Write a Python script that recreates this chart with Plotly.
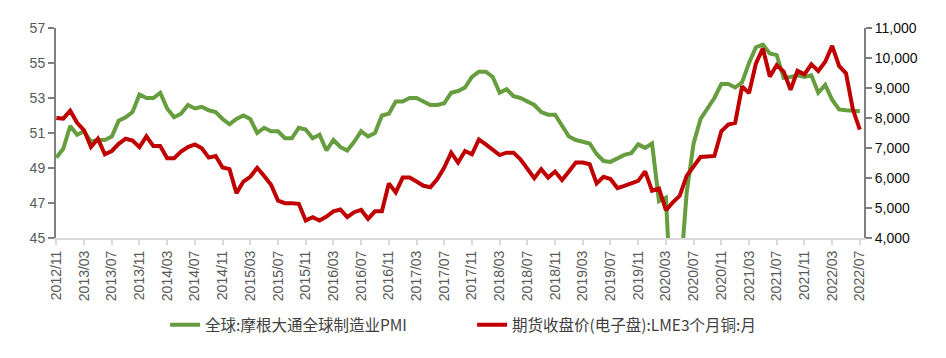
import plotly.graph_objects as go

months = []
y, m = 2012, 11
for _ in range(117):
    months.append(f"{y}/{m:02d}")
    m += 1
    if m > 12:
        m = 1
        y += 1

pmi = [49.6, 50.1, 51.4, 50.9, 51.1, 50.5, 50.6, 50.6, 50.8, 51.7, 51.9, 52.2,
       53.2, 53.0, 53.0, 53.3, 52.4, 51.9, 52.1, 52.6, 52.4, 52.5, 52.3, 52.2,
       51.8, 51.5, 51.8, 52.0, 51.8, 51.0, 51.3, 51.1, 51.1, 50.7, 50.7, 51.3,
       51.2, 50.7, 50.9, 50.0, 50.6, 50.2, 50.0, 50.5, 51.1, 50.8, 51.0, 52.0,
       52.1, 52.8, 52.8, 53.0, 53.0, 52.8, 52.6, 52.6, 52.7, 53.3, 53.4, 53.6,
       54.2, 54.5, 54.5, 54.2, 53.3, 53.5, 53.1, 53.0, 52.8, 52.6, 52.2, 52.05,
       52.05, 51.45, 50.8, 50.6, 50.5, 50.4, 49.8, 49.4, 49.35, 49.55, 49.75, 49.85,
       50.35, 50.15, 50.4, 47.1, 47.3, 39.6, 42.4, 47.6, 50.4, 51.8, 52.4, 53.0,
       53.8, 53.8, 53.6, 53.9, 55.0, 55.9, 56.05, 55.55, 55.45, 54.15, 54.2, 54.3,
       54.2, 54.3, 53.3, 53.75, 52.9, 52.35, 52.3, 52.25, 52.25]

copper = [8000, 7980, 8245, 7840, 7590, 7035, 7310, 6790, 6900, 7140, 7310, 7250,
          7030, 7390, 7065, 7065, 6660, 6660, 6880, 7030, 7120, 6990, 6680, 6735,
          6350, 6295, 5490, 5880, 6040, 6340, 6070, 5775, 5245, 5160, 5160, 5140,
          4585, 4695, 4585, 4715, 4890, 4950, 4695, 4860, 4935, 4640, 4890, 4890,
          5820, 5520, 6015, 6015, 5885, 5740, 5690, 5965, 6350, 6845, 6515, 6900,
          6790, 7285, 7120, 6955, 6765, 6845, 6845, 6625, 6295, 5995, 6295, 6015,
          6215, 5930, 6215, 6515, 6515, 6460, 5820, 6040, 5965, 5665, 5740, 5830,
          5905, 6220, 5577, 5650, 4930, 5190, 5410, 6070, 6400, 6700, 6720, 6735,
          7560, 7780, 7840, 9050, 8830, 9820, 10320, 9380, 9765, 9545, 8940, 9570,
          9455, 9790, 9570, 9875, 10405, 9735, 9490, 8280, 7615]

tick_labels = months[::4]

name_pmi = "全球:摩根大通全球制造业PMI"
name_cu = "期货收盘价(电子盘):LME3个月铜:月"

fig = go.Figure()
fig.add_trace(go.Scatter(x=months, y=pmi, name=name_pmi, mode="lines",
                         line=dict(color="#659D3F", width=4), yaxis="y"))
fig.add_trace(go.Scatter(x=months, y=copper, name=name_cu, mode="lines",
                         line=dict(color="#C00000", width=4), yaxis="y2"))

tickfont = dict(family="Liberation Sans, Arial, sans-serif", size=14, color="#595959")

fig.update_layout(
    width=946, height=358,
    margin=dict(l=48, r=90, t=18, b=128),
    paper_bgcolor="white", plot_bgcolor="white",
    showlegend=True,
    legend=dict(orientation="h", x=0.135, xanchor="left", y=-0.415, yanchor="middle",
                font=dict(family="Noto Sans CJK SC, sans-serif", size=15.5, color="#404040"),
                entrywidth=262, traceorder="normal", bgcolor="rgba(0,0,0,0)"),
    xaxis=dict(type="category", range=[-0.05, 116.6], tickmode="array",
               tickvals=tick_labels, ticktext=tick_labels, tickangle=-90,
               showgrid=False, showline=True, linecolor="#D9D9D9", linewidth=2,
               ticks="outside", ticklen=5, tickcolor="#D9D9D9", tickwidth=1.5,
               tickfont=tickfont, zeroline=False),
    yaxis=dict(range=[45, 57], dtick=2, tick0=45, showgrid=False, showline=True,
               linecolor="#7F7F7F", linewidth=2, ticks="outside", ticklen=6,
               tickcolor="#7F7F7F", tickwidth=1.5, tickfont=tickfont, zeroline=False),
    yaxis2=dict(range=[4000, 11000], dtick=1000, tick0=4000, overlaying="y", side="right",
                showgrid=False, showline=True, linecolor="#7F7F7F", linewidth=2,
                ticks="outside", ticklen=6, tickcolor="#7F7F7F", tickwidth=1.5,
                tickformat=",", zeroline=False,
                tickfont=dict(family="Liberation Sans, Arial, sans-serif", size=14, color="#0D0D0D")),
)

fig.write_html("out.html")
